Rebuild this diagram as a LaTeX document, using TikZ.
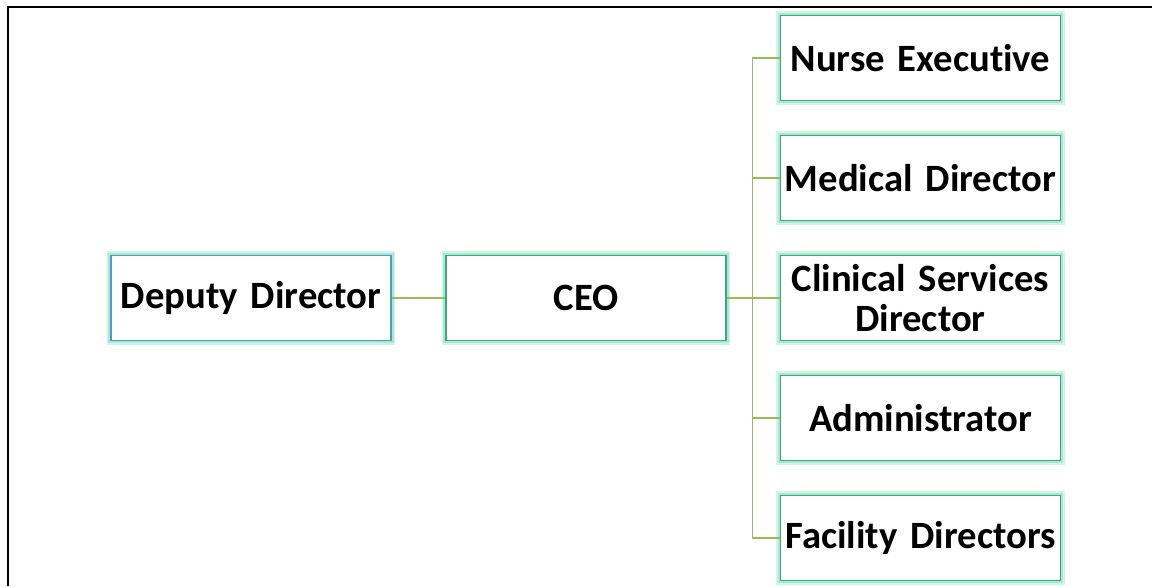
\documentclass[tikz,border=0pt]{standalone}
\usepackage{fontspec}
\setmainfont{Carlito}[Ligatures=CommonOff]
\usepackage{tikz}

\definecolor{boxline}{HTML}{3AA688}
\definecolor{deputyline}{HTML}{4A9DC6}
\definecolor{glow}{HTML}{9EE6C8}
\definecolor{linkline}{HTML}{9BBB59}

\begin{document}
\begin{tikzpicture}[
    post/.style={draw=boxline, line width=0.75pt, fill=white,
        preaction={draw=glow, line width=5pt, opacity=0.45},
        preaction={draw=glow, line width=3pt, opacity=0.8},
        minimum width=5.6cm, minimum height=1.7cm, text width=5.6cm,
        align=center, inner sep=0pt,
        font=\fontsize{22}{23}\selectfont\bfseries},
    link/.style={draw=linkline, line width=0.9pt}
    ]

    \useasboundingbox (0, 0) rectangle (23.04, -11.72);

    % Page frame
    \draw[line width=1.14pt] (0.16, -11.72) -- (0.16, -0.14) -- (23.04, -0.14);

    % Deputy Director
    \node[post, draw=deputyline] (Deputy) at (5.02, -5.96) {Deputy Director};

    % CEO
    \node[post] (CEO) at (11.72, -5.96) {CEO};

    % Reports
    \node[post] (Nurse) at (18.41, -1.16) {Nurse Executive};
    \node[post] (Medical) at (18.41, -3.56) {Medical Director};
    \node[post] (Clinical) at (18.41, -5.96) {Clinical Services\\Director};
    \node[post] (Admin) at (18.41, -8.36) {Administrator};
    \node[post] (Facility) at (18.41, -10.76) {Facility Directors};

    \coordinate (Hub) at (15.05, -5.96);

    % Connections
    \draw[link] (Deputy.east) -- (CEO.west);
    \draw[link] (CEO.east) -- (Hub);
    \foreach \n in {Nurse, Medical, Clinical, Admin, Facility}
        \draw[link] (Hub) |- (\n.west);

\end{tikzpicture}
\end{document}
